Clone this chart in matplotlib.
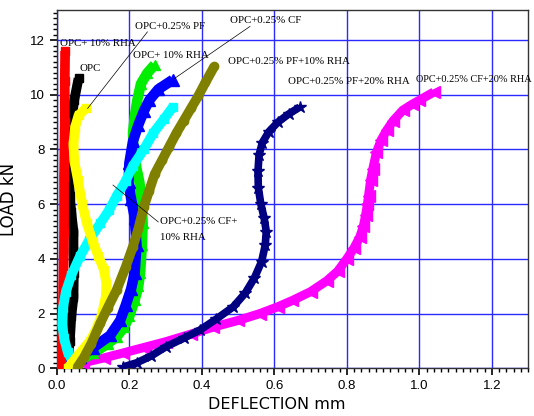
import matplotlib
matplotlib.use("Agg")
import matplotlib.pyplot as plt
from matplotlib.ticker import MultipleLocator

# ---- data (deflection mm, load kN) ----
red_x = [0.012, 0.015, 0.018, 0.02, 0.02, 0.022, 0.022, 0.023]
red_y = [0.0, 1.0, 3.0, 5.0, 7.0, 9.0, 10.5, 11.6]

black_x = [0.03, 0.036, 0.04, 0.046, 0.047, 0.046, 0.046, 0.04, 0.036, 0.035, 0.036, 0.04, 0.048, 0.06]
black_y = [0.3, 1.0, 1.9, 2.6, 3.5, 4.3, 5.0, 5.7, 6.3, 7.0, 7.8, 9.0, 9.8, 10.6]

yellow_x = [0.03, 0.06, 0.092, 0.112, 0.125, 0.135, 0.137, 0.13, 0.115, 0.1, 0.083, 0.07, 0.058,
            0.048, 0.046, 0.05, 0.06, 0.08]
yellow_y = [0.0, 0.5, 1.0, 1.5, 2.0, 2.6, 3.1, 3.6, 4.1, 4.6, 5.3, 6.0, 6.9,
            7.6, 8.2, 8.8, 9.25, 9.5]

cyan_x = [0.045, 0.03, 0.02, 0.015, 0.017, 0.025, 0.04, 0.064, 0.09, 0.12, 0.145, 0.165, 0.19,
          0.21, 0.24, 0.266, 0.295, 0.32]
cyan_y = [0.2, 0.6, 1.1, 1.6, 2.2, 2.8, 3.4, 4.1, 4.7, 5.3, 5.8, 6.3, 6.85,
          7.4, 8.0, 8.6, 9.1, 9.55]

green_x = [0.05, 0.1, 0.14, 0.165, 0.185, 0.2, 0.215, 0.225, 0.23, 0.235, 0.237, 0.235, 0.228,
           0.22, 0.212, 0.21, 0.215, 0.222, 0.232, 0.25, 0.27]
green_y = [0.2, 0.55, 0.9, 1.15, 1.5, 1.9, 2.5, 3.0, 3.5, 4.5, 5.3, 6.0, 6.8,
           7.3, 8.0, 8.6, 9.2, 9.8, 10.4, 10.8, 11.1]

blue_x = [0.03, 0.064, 0.1, 0.147, 0.175, 0.19, 0.205, 0.215, 0.22, 0.215, 0.205, 0.198, 0.2,
          0.21, 0.225, 0.24, 0.255, 0.28, 0.32]
blue_y = [0.1, 0.42, 0.75, 1.2, 1.75, 2.3, 2.9, 3.5, 4.5, 5.5, 6.2, 6.8, 7.5,
          8.3, 8.9, 9.4, 9.8, 10.2, 10.55]

olive_x = [0.055, 0.075, 0.095, 0.12, 0.14, 0.165, 0.19, 0.21, 0.225, 0.24, 0.255, 0.27, 0.29,
           0.31, 0.33, 0.35, 0.37, 0.39, 0.41, 0.435]
olive_y = [0.0, 0.4, 0.9, 1.65, 2.2, 2.86, 3.7, 4.45, 5.1, 5.9, 6.5, 7.1, 7.6,
           8.1, 8.6, 9.05, 9.5, 9.95, 10.45, 11.05]

navy_x = [0.183, 0.22, 0.26, 0.3, 0.35, 0.395, 0.44, 0.487, 0.52, 0.545, 0.565, 0.575, 0.578,
          0.572, 0.563, 0.556, 0.555, 0.558, 0.567, 0.585, 0.61, 0.64, 0.67]
navy_y = [0.05, 0.2, 0.45, 0.78, 1.1, 1.4, 1.8, 2.25, 2.75, 3.3, 3.9, 4.5, 5.0,
          5.5, 6.0, 6.6, 7.2, 7.8, 8.25, 8.65, 9.0, 9.3, 9.55]

mag_x = [0.01, 0.072, 0.13, 0.183, 0.24, 0.3, 0.37, 0.43, 0.5, 0.56, 0.61, 0.65, 0.7, 0.745,
         0.775, 0.8, 0.82, 0.836, 0.846, 0.852, 0.857, 0.86, 0.866, 0.872, 0.882, 0.895, 0.91,
         0.928, 0.955, 0.98, 1.0, 1.04]
mag_y = [0.05, 0.2, 0.38, 0.56, 0.76, 0.97, 1.25, 1.5, 1.75, 2.0, 2.25, 2.48, 2.8, 3.2,
         3.55, 4.0, 4.4, 4.8, 5.2, 5.6, 6.0, 6.3, 6.9, 7.3, 7.9, 8.35, 8.7,
         9.05, 9.44, 9.65, 9.8, 10.1]

x_ticks = [0.0, 0.2, 0.4, 0.6, 0.8, 1.0, 1.2]
y_ticks = [0, 2, 4, 6, 8, 10, 12]

fig = plt.figure(figsize=(5.34, 4.16), dpi=100)
ax = fig.add_axes([56.8 / 534, 1 - 368.3 / 416, (528 - 56.8) / 534, (368.3 - 10) / 416])

ax.set_xlim(0, 1.3)
ax.set_ylim(0, 13.1)
ax.set_xticks(x_ticks)
ax.set_xticklabels([f"{v:.1f}" for v in x_ticks])
ax.set_yticks(y_ticks)
ax.set_yticklabels([str(v) for v in y_ticks])
ax.xaxis.set_minor_locator(MultipleLocator(0.02))
ax.yaxis.set_minor_locator(MultipleLocator(0.2))
ax.tick_params(which="major", direction="out", length=5, width=1.2, labelsize=9.5,
               top=False, right=False)
ax.tick_params(which="minor", direction="out", length=3, width=1, top=False, right=False)
for lab in ax.get_xticklabels() + ax.get_yticklabels():
    lab.set_fontfamily("Liberation Sans")
ax.grid(True, which="major", color="#2a2aff", lw=1.0, zorder=0)
for s in ax.spines.values():
    s.set_color("#333333")
    s.set_linewidth(1.0)

def curve(x, y, color, lw, marker, ms, z):
    ax.plot(x, y, color=color, lw=lw, solid_capstyle="butt", solid_joinstyle="round", zorder=z)
    ax.plot(x, y, linestyle="none", marker=marker, ms=ms, color=color, mec=color, zorder=z)

curve(mag_x, mag_y, "#ff00ff", 6.5, "<", 8, 3)
curve(navy_x, navy_y, "#000080", 5.5, "*", 9, 4)
curve(green_x, green_y, "#00ee00", 7.5, "^", 7, 5)
curve(blue_x, blue_y, "#0000ff", 7.5, "^", 8, 6)
curve(black_x, black_y, "#000000", 7, "s", 6, 5)
curve(red_x, red_y, "#ff0000", 7, "s", 6, 6)
curve(cyan_x, cyan_y, "#00ffff", 7, "s", 6, 7)
curve(yellow_x, yellow_y, "#ffff00", 7, "s", 6, 8)
curve(olive_x, olive_y, "#808000", 7, "o", 6, 9)

tf = dict(fontfamily="Liberation Serif", fontsize=7.8, color="black", zorder=10)
ax.text(0.01, 11.86, "OPC+ 10% RHA", va="center", ha="left", **tf)
ax.text(0.064, 10.95, "OPC", va="center", ha="left", **tf)
ax.text(0.216, 12.48, "OPC+0.25% PF", va="center", ha="left", **tf)
ax.text(0.21, 11.45, "OPC+ 10% RHA", va="center", ha="left", **tf)
ax.text(0.478, 12.7, "OPC+0.25% CF", va="center", ha="left", **tf)
ax.text(0.472, 11.2, "OPC+0.25% PF+10% RHA", va="center", ha="left", **tf)
ax.text(0.638, 10.47, "OPC+0.25% PF+20% RHA", va="center", ha="left", **tf)
ax.text(0.99, 10.55, "OPC+0.25% CF+20% RHA", va="center", ha="left", clip_on=False,
        fontfamily="Liberation Serif", fontsize=7.4, color="black", zorder=10)
ax.text(0.285, 5.35, "OPC+0.25% CF+", va="center", ha="left", **tf)
ax.text(0.285, 4.8, "10% RHA", va="center", ha="left", **tf)

# leader lines
ax.plot([0.25, 0.085], [12.3, 9.5], color="black", lw=0.5, zorder=10)
ax.plot([0.533, 0.325], [12.5, 10.6], color="black", lw=0.5, zorder=10)
ax.plot([0.28, 0.155], [5.35, 6.7], color="black", lw=0.5, zorder=10)

ax.set_xlabel("DEFLECTION mm", fontfamily="DejaVu Sans", fontsize=11.5, va="center")
ax.set_ylabel("LOAD kN", fontfamily="DejaVu Sans", fontsize=12)
ax.xaxis.set_label_coords(0.467, -0.102)
ax.yaxis.set_label_coords(-0.083, 0.4725)

fig.savefig("out.png", dpi=100)
